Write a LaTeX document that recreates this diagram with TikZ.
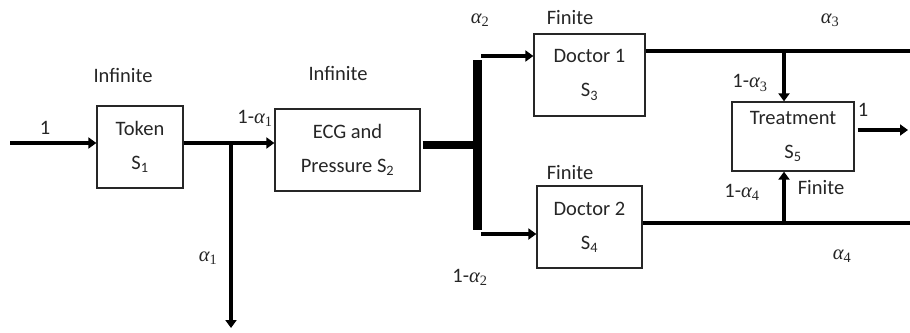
\documentclass[tikz,border=0pt]{standalone}
\usepackage{fontspec}
\setmainfont{Carlito}
\newfontfamily\grk{Liberation Serif}
\newcommand{\al}[1]{{\grk\itshape α}\textsubscript{\grk #1}}
\usetikzlibrary{arrows.meta}
\begin{document}
\begin{tikzpicture}[x=1pt,y=-1pt,
  box/.style={draw=black!85,line width=1.3pt,align=center,inner sep=0pt,
    font=\fontsize{20.5}{34}\selectfont,text=black!85},
  lbl/.style={font=\fontsize{20.5}{22}\selectfont,text=black!85,inner sep=0pt},
  flow/.style={line width=4pt,-{Triangle[length=8pt,width=11pt]}},
  plain/.style={line width=4pt}]
\useasboundingbox (0,0) rectangle (910,332);
% boxes
\node[box,minimum width=86pt,minimum height=82pt] (token) at (140,147) {Token\\S\textsubscript{1}};
\node[box,minimum width=145pt,minimum height=82pt] (ecg) at (347.5,150) {ECG and\\Pressure S\textsubscript{2}};
\node[box,minimum width=111pt,minimum height=82pt] (doc1) at (589.5,75) {Doctor 1\\S\textsubscript{3}};
\node[box,minimum width=105pt,minimum height=82pt] (doc2) at (589.5,227) {Doctor 2\\S\textsubscript{4}};
\node[box,minimum width=122pt,minimum height=69pt] (treat) at (793,136.5) {Treatment\\S\textsubscript{5}};
% coordinates
\coordinate (in) at (10,143);
\coordinate (split1) at (231,143);
\coordinate (out1) at (231,328);
\coordinate (bartop) at (477,56);
\coordinate (barbot) at (477,234);
\coordinate (barmid) at (477,145);
\coordinate (d1end) at (910,51);
\coordinate (d2end) at (910,223);
\coordinate (j3) at (784,51);
\coordinate (j4) at (784,223);
\coordinate (tout) at (908,130);
% connectors
\draw[flow] (in) -- (token.west |- in);
\draw[flow] (token.east |- in) -- (ecg.west |- in);
\draw[flow] (split1) -- (out1);
\draw[line width=8pt] ([xshift=2pt]ecg.east |- barmid) -- (barmid);
\draw[line width=9pt] ([yshift=-4pt]bartop) -- ([yshift=4pt]barbot);
\draw[flow] ([xshift=4pt]bartop) -- (doc1.west |- bartop);
\draw[flow] ([xshift=4pt]barbot) -- (doc2.west |- barbot);
\draw[plain] (doc1.east |- d1end) -- (d1end);
\draw[plain] (doc2.east |- d2end) -- (d2end);
\draw[flow] ([yshift=2pt]j3) -- (treat.north -| j3);
\draw[flow] ([yshift=-2pt]j4) -- (treat.south -| j4);
\draw[flow] ([xshift=3pt]treat.east |- tout) -- (tout);
% labels
\node[lbl] (l1) at (45,128) {1};
\node[lbl] (inf1) at (123,75) {Infinite};
\node[lbl] (inf2) at (338,73) {Infinite};
\node[lbl] (la1) at (255,118) {1-\al{1}};
\node[lbl] (a1) at (208,258) {\al{1}};
\node[lbl] (a2) at (480,20) {\al{2}};
\node[lbl] (la2) at (470,277) {1-\al{2}};
\node[lbl] (fin1) at (570,18) {Finite};
\node[lbl] (fin2) at (570,173) {Finite};
\node[lbl] (a3) at (830,20) {\al{3}};
\node[lbl] (la3) at (750,83) {1-\al{3}};
\node[lbl] (lout) at (863,110) {1};
\node[lbl] (la4) at (742,192) {1-\al{4}};
\node[lbl] (fin3) at (821,188) {Finite};
\node[lbl] (a4) at (842,256) {\al{4}};
\end{tikzpicture}
\end{document}
